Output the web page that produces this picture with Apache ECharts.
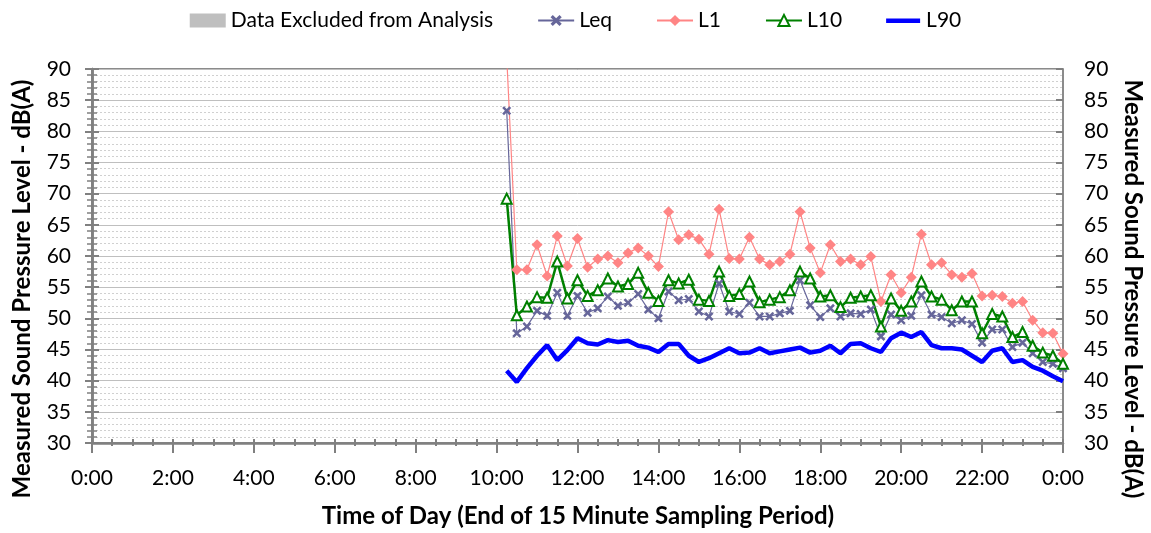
<!DOCTYPE html>
<html lang="en">

<head>
    <meta charset="UTF-8">
    <title>Sound Pressure Level</title>
    <style>
        body { margin: 0; background: #fff; }
        #main { width: 1151px; height: 533px; }
    </style>
</head>

<body>
    <div id="main"></div>
</body>
<script src="https://cdn.jsdelivr.net/npm/echarts@6/dist/echarts.min.js"></script>

<script>
    // end of each 15 minute sampling period
    var times = ['10:15', '10:30', '10:45', '11:00', '11:15', '11:30', '11:45', '12:00', '12:15', '12:30', '12:45', '13:00', '13:15', '13:30',
        '13:45', '14:00', '14:15', '14:30', '14:45', '15:00', '15:15', '15:30', '15:45', '16:00', '16:15', '16:30', '16:45', '17:00',
        '17:15', '17:30', '17:45', '18:00', '18:15', '18:30', '18:45', '19:00', '19:15', '19:30', '19:45', '20:00', '20:15', '20:30',
        '20:45', '21:00', '21:15', '21:30', '21:45', '22:00', '22:15', '22:30', '22:45', '23:00', '23:15', '23:30', '23:45', '24:00'];

    var leq = [83.3, 47.6, 48.7, 51.2, 50.4, 54.1, 50.4, 53.6, 50.9, 51.6, 53.5, 52.0, 52.5, 53.9,
        51.4, 50.0, 54.3, 52.9, 53.1, 51.1, 50.3, 55.6, 51.1, 50.7, 52.5, 50.3, 50.3, 50.8,
        51.2, 56.1, 52.1, 50.2, 51.6, 50.3, 50.8, 50.7, 51.4, 47.1, 50.6, 49.7, 50.4, 53.7,
        50.6, 50.2, 49.2, 49.7, 49.1, 46.1, 48.2, 48.2, 45.4, 46.1, 44.4, 43.0, 42.7, 42.0];

    var l1 = [92.0, 57.8, 57.8, 61.8, 56.8, 63.2, 58.4, 62.8, 58.2, 59.5, 60.0, 58.9, 60.5, 61.3,
        60.0, 58.3, 67.1, 62.6, 63.4, 62.7, 60.3, 67.5, 59.6, 59.5, 63.0, 59.5, 58.6, 59.1,
        60.3, 67.1, 61.3, 57.3, 61.8, 59.1, 59.5, 58.6, 59.9, 52.7, 57.0, 54.1, 56.6, 63.5,
        58.6, 58.9, 57.0, 56.6, 57.2, 53.6, 53.7, 53.5, 52.4, 52.7, 49.7, 47.7, 47.6, 44.3];

    var l10 = [69.2, 50.5, 51.9, 53.4, 53.3, 59.1, 53.2, 56.1, 53.6, 54.5, 56.4, 55.1, 55.5, 57.3,
        54.1, 52.8, 56.1, 55.6, 56.2, 53.0, 52.8, 57.5, 53.6, 53.9, 55.9, 52.6, 53.0, 53.4,
        54.5, 57.5, 56.4, 53.5, 53.7, 51.8, 53.3, 53.5, 53.7, 48.7, 53.2, 51.2, 52.7, 55.9,
        53.5, 53.0, 51.3, 52.7, 52.7, 47.6, 50.7, 50.3, 47.0, 47.8, 45.6, 44.5, 44.0, 42.7];

    var l90 = [41.6, 39.8, 42.0, 44.0, 45.7, 43.3, 44.9, 46.8, 46.0, 45.8, 46.5, 46.2, 46.4, 45.6,
        45.3, 44.6, 45.9, 45.9, 44.0, 43.0, 43.6, 44.4, 45.2, 44.4, 44.5, 45.2, 44.4, 44.7,
        45.0, 45.3, 44.5, 44.8, 45.6, 44.4, 45.9, 46.0, 45.2, 44.6, 46.8, 47.7, 47.0, 47.8,
        45.7, 45.2, 45.2, 45.0, 44.0, 43.0, 44.8, 45.2, 43.0, 43.3, 42.2, 41.6, 40.7, 39.9];

    var font = 'Lato, "Open Sans", sans-serif';
    var yTitle = 'Measured Sound Pressure Level - dB(A)';
    var xTitle = 'Time of Day (End of 15 Minute Sampling Period)';

    function hours(t) {
        var p = t.split(':');
        return +p[0] + p[1] / 60;
    }

    function pairs(values) {
        return values.map(function (v, i) {
            return [hours(times[i]), v];
        });
    }

    var crossPath = 'path://M2,0 L5,3 L8,0 L10,2 L7,5 L10,8 L8,10 L5,7 L2,10 L0,8 L3,5 L0,2 Z';
    // thick line icon for L90 (the moveTo points keep the icon box 34x14)
    var thickLine = 'path://M0,0 M34,14 M0,5 L34,5 L34,9.5 L0,9.5 Z';

    var myChart = echarts.init(document.getElementById('main'));

    var tickStyle = { color: '#808080', width: 2 };

    function yAxisOut(pos) {
        return {
            type: 'value',
            position: pos,
            min: 30,
            max: 90,
            interval: 5,
            axisLine: { show: true, lineStyle: { color: '#808080', width: 2.5 } },
            axisTick: { show: true, length: 7, lineStyle: tickStyle },
            minorTick: { show: true, splitNumber: 5, length: 5, lineStyle: { color: '#808080', width: 1.5 } },
            splitLine: { show: false },
            axisLabel: { color: '#000', fontSize: 21, fontFamily: font, margin: 21 }
        };
    }

    function yAxisIn(pos) {
        return {
            type: 'value',
            position: pos,
            min: 30,
            max: 90,
            interval: 5,
            axisLine: { show: false },
            axisTick: { show: true, inside: true, length: 7, lineStyle: tickStyle },
            axisLabel: { show: false },
            splitLine: { show: false }
        };
    }

    var leftOut = yAxisOut('left');
    leftOut.splitLine = { show: true, lineStyle: { color: '#bfbfbf', width: 1 } };
    leftOut.minorSplitLine = { show: true, lineStyle: { color: '#d0d0d0', width: 1, type: [2, 2] } };

    myChart.setOption({
        animation: false,
        textStyle: { fontFamily: font },
        grid: {
            left: 92,
            right: 88,
            top: 69,
            bottom: 90,
            show: true,
            borderColor: '#666',
            borderWidth: 1.5
        },
        legend: {
            top: 5,
            left: 'center',
            itemWidth: 36,
            itemHeight: 14,
            itemGap: 44,
            textStyle: { color: '#000', fontSize: 21, fontFamily: font },
            data: [
                { name: 'Data Excluded from Analysis', icon: 'rect' },
                'Leq', 'L1', 'L10',
                { name: 'L90', icon: thickLine }
            ]
        },
        xAxis: [
            {
                type: 'value',
                min: 0,
                max: 24,
                interval: 2,
                axisLine: { show: true, onZero: false, lineStyle: { color: '#808080', width: 2.5 } },
                axisTick: { show: true, length: 10, lineStyle: tickStyle },
                minorTick: { show: true, splitNumber: 4, length: 3, lineStyle: tickStyle },
                splitLine: { show: false },
                axisLabel: {
                    color: '#000',
                    fontSize: 21,
                    fontFamily: font,
                    margin: 25,
                    formatter: function (v) {
                        return (v % 24) + ':00';
                    }
                }
            },
            {
                type: 'value',
                position: 'bottom',
                min: 0,
                max: 24,
                interval: 2,
                axisLine: { show: false, onZero: false },
                axisTick: { show: true, inside: true, length: 4, lineStyle: tickStyle },
                minorTick: { show: true, splitNumber: 4, length: 4, lineStyle: tickStyle },
                axisLabel: { show: false },
                splitLine: { show: false }
            }
        ],
        yAxis: [leftOut, yAxisOut('right'), yAxisIn('left'), yAxisIn('right')],
        graphic: [
            {
                type: 'text',
                x: 22,
                y: 289,
                rotation: Math.PI / 2,
                style: {
                    text: yTitle,
                    fill: '#000',
                    font: 'bold 24px ' + font,
                    align: 'center',
                    verticalAlign: 'middle'
                }
            },
            {
                type: 'text',
                x: 1133,
                y: 289,
                rotation: -Math.PI / 2,
                style: {
                    text: yTitle,
                    fill: '#000',
                    font: 'bold 24px ' + font,
                    align: 'center',
                    verticalAlign: 'middle'
                }
            },
            {
                type: 'text',
                x: 578,
                y: 516,
                style: {
                    text: xTitle,
                    fill: '#000',
                    font: 'bold 24px ' + font,
                    align: 'center',
                    verticalAlign: 'middle'
                }
            }
        ],
        series: [
            {
                name: 'Data Excluded from Analysis',
                type: 'bar',
                itemStyle: { color: '#bfbfbf' },
                data: []
            },
            {
                name: 'Leq',
                type: 'line',
                data: pairs(leq),
                symbol: crossPath,
                symbolSize: 9,
                itemStyle: { color: '#66669a' },
                lineStyle: { color: '#66669a', width: 1.2 }
            },
            {
                name: 'L1',
                type: 'line',
                data: pairs(l1),
                symbol: 'diamond',
                symbolSize: 11,
                itemStyle: { color: '#ff8585' },
                lineStyle: { color: '#ff8585', width: 1.2 }
            },
            {
                name: 'L10',
                type: 'line',
                data: pairs(l10),
                symbol: 'triangle',
                symbolSize: 10,
                itemStyle: { color: '#fff', borderColor: '#008000', borderWidth: 2 },
                lineStyle: { color: '#008000', width: 2.5 }
            },
            {
                name: 'L90',
                type: 'line',
                data: pairs(l90),
                showSymbol: false,
                symbol: 'none',
                itemStyle: { color: '#0000ff' },
                lineStyle: { color: '#0000ff', width: 4.5 }
            }
        ]
    });
</script>

</html>
